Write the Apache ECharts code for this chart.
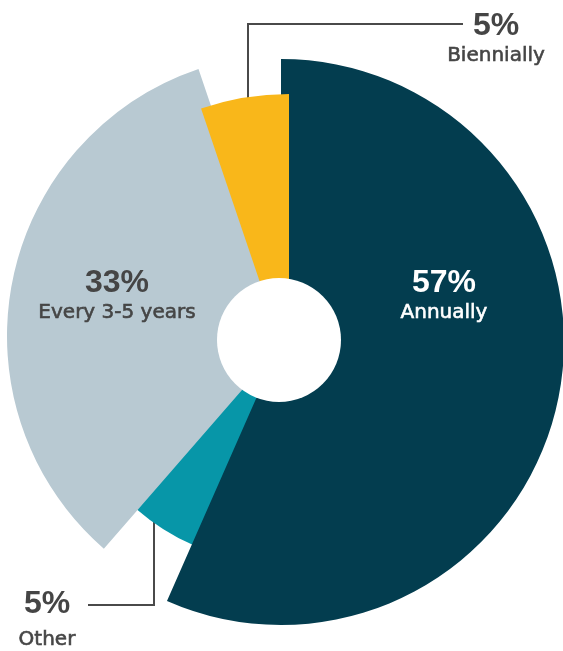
<!DOCTYPE html>
<html><head><meta charset="utf-8">
<script src="https://cdn.jsdelivr.net/npm/echarts@6/dist/echarts.min.js"></script>
<style>html,body{margin:0;padding:0;background:#fff}#chart{width:563px;height:651px}</style>
</head><body><div id="chart"></div>
<script>
// ---- data ----
const categories = ['Annually', 'Other', 'Every 3-5 years', 'Biennially'];
const shares = [56.6, 4.8, 33.4, 5.2];
const colors = ['#033d4f', '#0796a8', '#b8c9d2', '#f9b71a'];

// ---- layout (per slice) ----
const layout = [
  { center: [281, 342], r: 283, pos: 'inside', label: [444, 296], txt: '#ffffff', gap: 26 },
  { center: [283, 341], r: 223, pos: 'outside', label: [47, 623], txt: '#454545', gap: 38,
    line: [[154, 501], [154, 605], [88, 605]] },
  { center: [289, 336], r: 282, pos: 'inside', label: [117, 296], txt: '#454545', gap: 26 },
  { center: [289, 368], r: 274, pos: 'outside', label: [496, 39], txt: '#454545', gap: 26,
    line: [[248, 119], [248, 24], [463, 24]] }
];
const drawOrder = [1, 2, 0, 3];

const series = drawOrder.map(function (i) {
  const L = layout[i];
  return {
    type: 'pie',
    center: L.center,
    radius: [0, L.r],
    startAngle: 90,
    clockwise: true,
    avoidLabelOverlap: false,
    silent: true,
    animation: false,
    label: {
      show: true,
      position: L.pos,
      align: 'center',
      verticalAlign: 'middle',
      formatter: function (p) { return '{v|' + Math.round(p.value) + '%}\n{n|' + p.name + '}'; },
      rich: {
        v: { fontFamily: 'Liberation Sans', fontWeight: 'bold', fontSize: 32, lineHeight: 34, color: L.txt, align: 'center' },
        n: { fontFamily: 'DejaVu Sans', fontSize: 20, lineHeight: L.gap, color: L.txt, align: 'center',
             textBorderColor: L.txt, textBorderWidth: 0.6 }
      }
    },
    labelLine: { show: !!L.line, lineStyle: { color: '#4a4a4a', width: 2 }, length: 10, length2: 10 },
    labelLayout: function () {
      const o = { x: L.label[0], y: L.label[1], align: 'center', verticalAlign: 'middle' };
      if (L.line) o.labelLinePoints = L.line;
      return o;
    },
    data: categories.map(function (c, j) {
      return {
        name: c,
        value: shares[j],
        itemStyle: { color: j === i ? colors[j] : 'rgba(0,0,0,0)', borderWidth: 0 },
        label: { show: j === i },
        labelLine: { show: j === i && !!L.line }
      };
    })
  };
});

const chart = echarts.init(document.getElementById('chart'), null, { renderer: 'canvas' });
chart.setOption({
  backgroundColor: '#ffffff',
  animation: false,
  series: series,
  graphic: { elements: [{ type: 'circle', shape: { cx: 279, cy: 340, r: 62 }, style: { fill: '#ffffff' }, z: 100 }] }
});
</script>
</body></html>
